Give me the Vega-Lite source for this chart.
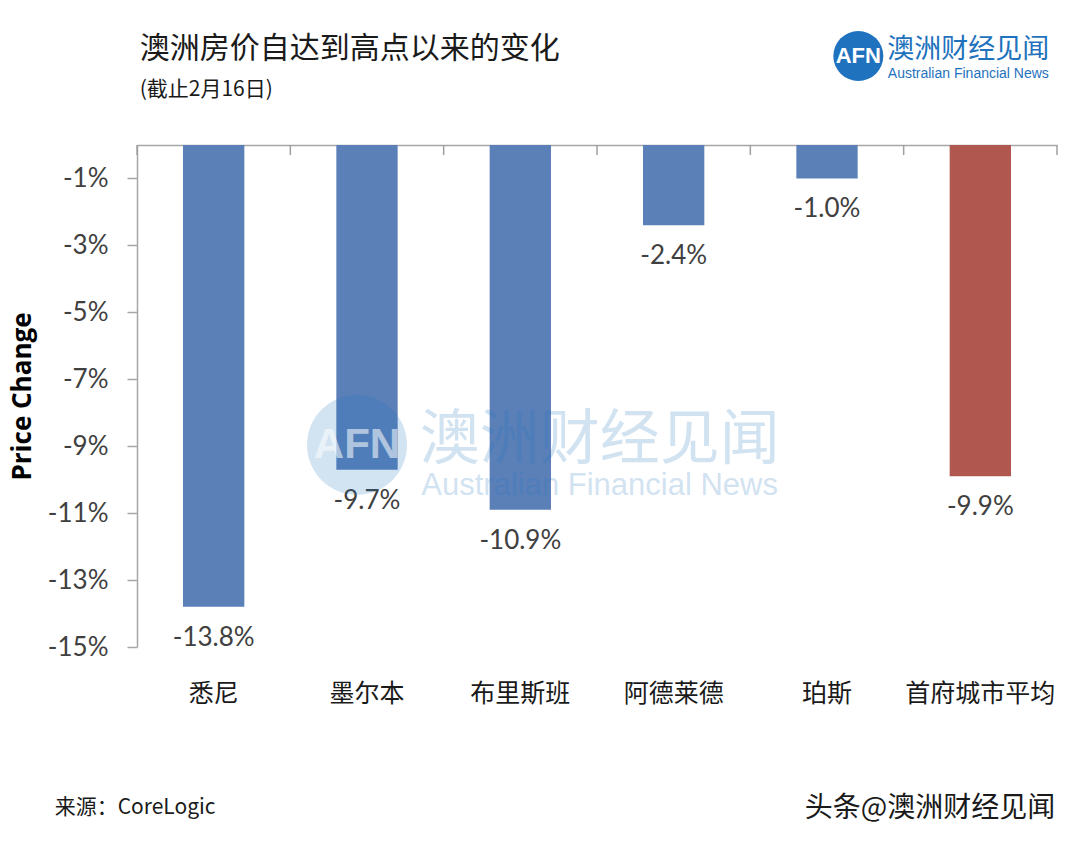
{
  "$schema": "https://vega.github.io/schema/vega-lite/v6.json",
  "width": 920,
  "height": 502,
  "autosize": {"type": "none"},
  "padding": {"left": 137, "top": 145, "right": 23, "bottom": 201},
  "background": "white",
  "config": {
    "view": {"stroke": null},
    "locale": {"number": {"decimal": ".", "thousands": ",", "grouping": [3], "currency": ["$", ""], "minus": "-"}},
    "font": "Lato, Noto Sans CJK SC, sans-serif"
  },
  "datasets": {
    "bars": [
      {"city": "悉尼", "change": -0.138, "group": "城市"},
      {"city": "墨尔本", "change": -0.097, "group": "城市"},
      {"city": "布里斯班", "change": -0.109, "group": "城市"},
      {"city": "阿德莱德", "change": -0.024, "group": "城市"},
      {"city": "珀斯", "change": -0.010, "group": "城市"},
      {"city": "首府城市平均", "change": -0.099, "group": "平均"}
    ],
    "one": [{"text": ""}]
  },
  "layer": [
    {
      "data": {"name": "bars"},
      "mark": {"type": "bar"},
      "encoding": {
        "x": {
          "field": "city", "type": "nominal", "sort": null, "title": null,
          "scale": {"domain": ["悉尼", "墨尔本", "布里斯班", "阿德莱德", "珀斯", "首府城市平均"], "paddingInner": 0.6, "paddingOuter": 0.3},
          "axis": {"orient": "bottom", "offset": -502, "title": null, "domain": true, "domainColor": "#a6a6a6", "domainWidth": 1.5, "ticks": false, "tickSize": 0, "labelPadding": 536, "labelFont": "Noto Sans CJK SC", "labelFontSize": 25, "labelColor": "#1a1a1a", "labelAngle": 0}
        },
        "y": {
          "field": "change", "type": "quantitative", "title": "Price Change",
          "scale": {"domain": [-0.15, 0], "nice": false, "zero": false},
          "axis": {
            "title": "Price Change", "values": [-0.01, -0.03, -0.05, -0.07, -0.09, -0.11, -0.13, -0.15],
            "format": ".0%", "grid": false, "domainColor": "#a6a6a6", "domainWidth": 1.5, "tickColor": "#a6a6a6", "tickWidth": 1.5, "tickSize": 10,
            "labelPadding": 19, "labelFont": "Lato", "labelFontSize": 26, "labelColor": "#404040",
            "titleFont": "Open Sans", "titleFontSize": 26, "titleFontWeight": "bold", "titleColor": "#000000", "titlePadding": 12
          }
        },
        "color": {"field": "group", "type": "nominal", "scale": {"domain": ["城市", "平均"], "range": ["#5B80B8", "#B0574F"]}, "legend": null}
      }
    },
    {
      "data": {"name": "bars"},
      "mark": {"type": "rule", "color": "#a0a0a0", "strokeWidth": 1.5},
      "encoding": {
        "x": {"field": "city", "type": "nominal", "sort": null, "title": null, "bandPosition": -0.75},
        "y": {"datum": 0, "type": "quantitative", "title": "Price Change"},
        "y2": {"datum": -0.003}
      }
    },
    {
      "data": {"name": "one"},
      "mark": {"type": "rule", "color": "#a0a0a0", "strokeWidth": 1.5},
      "encoding": {
        "x": {"datum": "首府城市平均", "type": "nominal", "title": null, "bandPosition": 1.75},
        "y": {"datum": 0, "type": "quantitative", "title": "Price Change"},
        "y2": {"datum": -0.003}
      }
    },
    {
      "data": {"name": "bars"},
      "mark": {"type": "text", "baseline": "middle", "dy": 31, "fontSize": 26, "font": "Lato", "color": "#404040"},
      "encoding": {
        "x": {"field": "city", "type": "nominal", "sort": null, "title": null},
        "y": {"field": "change", "type": "quantitative", "title": "Price Change"},
        "text": {"field": "change", "format": ".1%"}
      }
    },
    {
      "data": {"name": "one"},
      "mark": {"type": "point", "shape": "circle", "filled": true, "size": 10000, "color": "#1f72bd", "opacity": 0.2, "xOffset": -10},
      "encoding": {
        "x": {"datum": "墨尔本", "type": "nominal", "title": null},
        "y": {"datum": -0.0896, "type": "quantitative", "title": "Price Change"}
      }
    },
    {
      "data": {"name": "one"},
      "mark": {"type": "text", "text": "AFN", "fontSize": 42, "fontWeight": "bold", "font": "Liberation Sans", "color": "white", "opacity": 0.55, "dx": -10, "baseline": "middle"},
      "encoding": {
        "x": {"datum": "墨尔本", "type": "nominal", "title": null},
        "y": {"datum": -0.0896, "type": "quantitative", "title": "Price Change"}
      }
    },
    {
      "data": {"name": "one"},
      "mark": {"type": "text", "text": "澳洲财经见闻", "fontSize": 60, "font": "Noto Sans CJK SC", "color": "#1f72bd", "opacity": 0.2, "dx": -74, "baseline": "middle"},
      "encoding": {
        "x": {"datum": "阿德莱德", "type": "nominal", "title": null},
        "y": {"datum": -0.0885, "type": "quantitative", "title": "Price Change"}
      }
    },
    {
      "data": {"name": "one"},
      "mark": {"type": "text", "text": "Australian Financial News", "fontSize": 31, "font": "Liberation Sans", "color": "#1f72bd", "opacity": 0.2, "dx": -74, "baseline": "middle"},
      "encoding": {
        "x": {"datum": "阿德莱德", "type": "nominal", "title": null},
        "y": {"datum": -0.1019, "type": "quantitative", "title": "Price Change"}
      }
    },
    {
      "data": {"name": "one"},
      "mark": {"type": "point", "shape": "circle", "filled": true, "size": 2500, "color": "#1f72bd", "opacity": 1, "xOffset": -122},
      "encoding": {
        "x": {"datum": "首府城市平均", "type": "nominal", "title": null},
        "y": {"datum": 0.0266, "type": "quantitative", "title": "Price Change"}
      }
    },
    {
      "data": {"name": "one"},
      "mark": {"type": "text", "text": "AFN", "fontSize": 22, "fontWeight": "bold", "font": "Liberation Sans", "color": "white", "dx": -122, "baseline": "middle"},
      "encoding": {
        "x": {"datum": "首府城市平均", "type": "nominal", "title": null},
        "y": {"datum": 0.0266, "type": "quantitative", "title": "Price Change"}
      }
    },
    {
      "data": {"name": "one"},
      "mark": {"type": "text", "text": "澳洲财经见闻", "fontSize": 27, "font": "Noto Sans CJK SC", "color": "#1f72bd", "dx": -12, "baseline": "middle"},
      "encoding": {
        "x": {"datum": "首府城市平均", "type": "nominal", "title": null},
        "y": {"datum": 0.0284, "type": "quantitative", "title": "Price Change"}
      }
    },
    {
      "data": {"name": "one"},
      "mark": {"type": "text", "text": "Australian Financial News", "fontSize": 14, "font": "Liberation Sans", "color": "#1f72bd", "dx": -12, "baseline": "middle"},
      "encoding": {
        "x": {"datum": "首府城市平均", "type": "nominal", "title": null},
        "y": {"datum": 0.0212, "type": "quantitative", "title": "Price Change"}
      }
    },
    {
      "data": {"name": "one"},
      "mark": {"type": "text", "text": "澳洲房价自达到高点以来的变化", "fontSize": 30, "font": "Noto Sans CJK SC", "color": "#1a1a1a", "dx": -74, "align": "left", "baseline": "middle"},
      "encoding": {
        "x": {"datum": "悉尼", "type": "nominal", "title": null},
        "y": {"datum": 0.0287, "type": "quantitative", "title": "Price Change"}
      }
    },
    {
      "data": {"name": "one"},
      "mark": {"type": "text", "text": "(截止2月16日)", "fontSize": 21, "font": "Noto Sans CJK SC", "color": "#1a1a1a", "dx": -74, "align": "left", "baseline": "middle"},
      "encoding": {
        "x": {"datum": "悉尼", "type": "nominal", "title": null},
        "y": {"datum": 0.0164, "type": "quantitative", "title": "Price Change"}
      }
    },
    {
      "data": {"name": "one"},
      "mark": {"type": "text", "text": "来源：CoreLogic", "fontSize": 21, "font": "Noto Sans CJK SC", "color": "#1a1a1a", "dx": -159, "align": "left", "baseline": "middle"},
      "encoding": {
        "x": {"datum": "悉尼", "type": "nominal", "title": null},
        "y": {"datum": -0.1981, "type": "quantitative", "title": "Price Change"}
      }
    },
    {
      "data": {"name": "one"},
      "mark": {"type": "text", "text": "头条@澳洲财经见闻", "fontSize": 28, "font": "Noto Sans CJK SC", "color": "#1a1a1a", "dx": 75, "align": "right", "baseline": "middle"},
      "encoding": {
        "x": {"datum": "首府城市平均", "type": "nominal", "title": null},
        "y": {"datum": -0.1984, "type": "quantitative", "title": "Price Change"}
      }
    }
  ]
}
